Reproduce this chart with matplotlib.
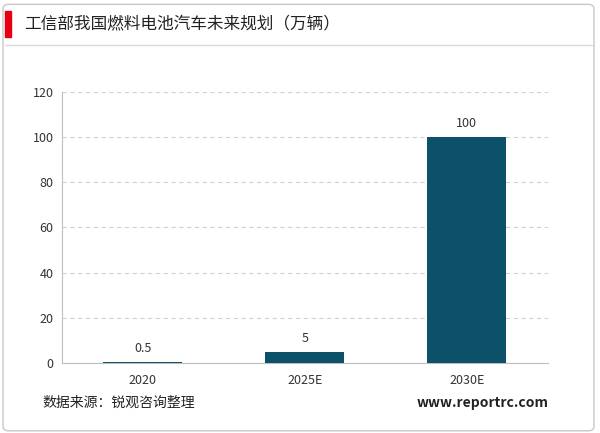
import matplotlib
matplotlib.use("Agg")
import matplotlib.pyplot as plt
from matplotlib.patches import Rectangle, FancyBboxPatch

plt.rcParams['font.family'] = ['Noto Sans CJK SC', 'DejaVu Sans']

categories = ["2020", "2025E", "2030E"]
values = [0.5, 5, 100]
labels = ["0.5", "5", "100"]
yticks = [0, 20, 40, 60, 80, 100, 120]

fig = plt.figure(figsize=(6, 4.33), dpi=100)
fig.patches.append(FancyBboxPatch((0.005, 0.005), 0.985, 0.985, boxstyle="round,pad=0,rounding_size=0.01",
                                  transform=fig.transFigure, fill=False, ec="#c8c8c8", lw=1))
fig.patches.append(Rectangle((0.008, 0.915), 0.01, 0.06, transform=fig.transFigure, color="#e60012"))
fig.text(0.04, 0.943, "工信部我国燃料电池汽车未来规划（万辆）", fontsize=12, va="center", color="#222222")
fig.add_artist(plt.Line2D([0.008, 0.99], [0.895, 0.895], transform=fig.transFigure, color="#d9d9d9", lw=1))

ax = fig.add_axes([0.103, 0.162, 0.81, 0.626])
x = range(len(categories))
ax.bar(x, values, width=0.49, color="#0d5069", zorder=3)
for xi, v, l in zip(x, values, labels):
    ax.text(xi, v + 3, l, ha="center", va="bottom", fontsize=9, color="#333333")
ax.set_xticks(list(x))
ax.set_xticklabels(categories, fontsize=9, color="#333333")
ax.set_yticks(yticks)
ax.set_yticklabels([str(t) for t in yticks], fontsize=9, color="#333333")
ax.set_ylim(0, 120)
ax.set_xlim(-0.5, 2.5)
ax.yaxis.grid(True, linestyle=(0, (4, 3)), color="#d0d0d0", lw=0.8, zorder=0)
for s in ["top", "right"]:
    ax.spines[s].set_visible(False)
ax.spines["left"].set_color("#bfbfbf")
ax.spines["bottom"].set_color("#bfbfbf")
ax.tick_params(axis="both", length=0, pad=6)
ax.tick_params(axis="x", pad=8)

fig.text(0.07, 0.07, "数据来源：锐观咨询整理", fontsize=10, va="center", color="#222222")
fig.text(0.915, 0.07, "www.reportrc.com", fontsize=10, va="center", ha="right", fontweight="bold", color="#222222")

fig.savefig("out.png", dpi=100)
